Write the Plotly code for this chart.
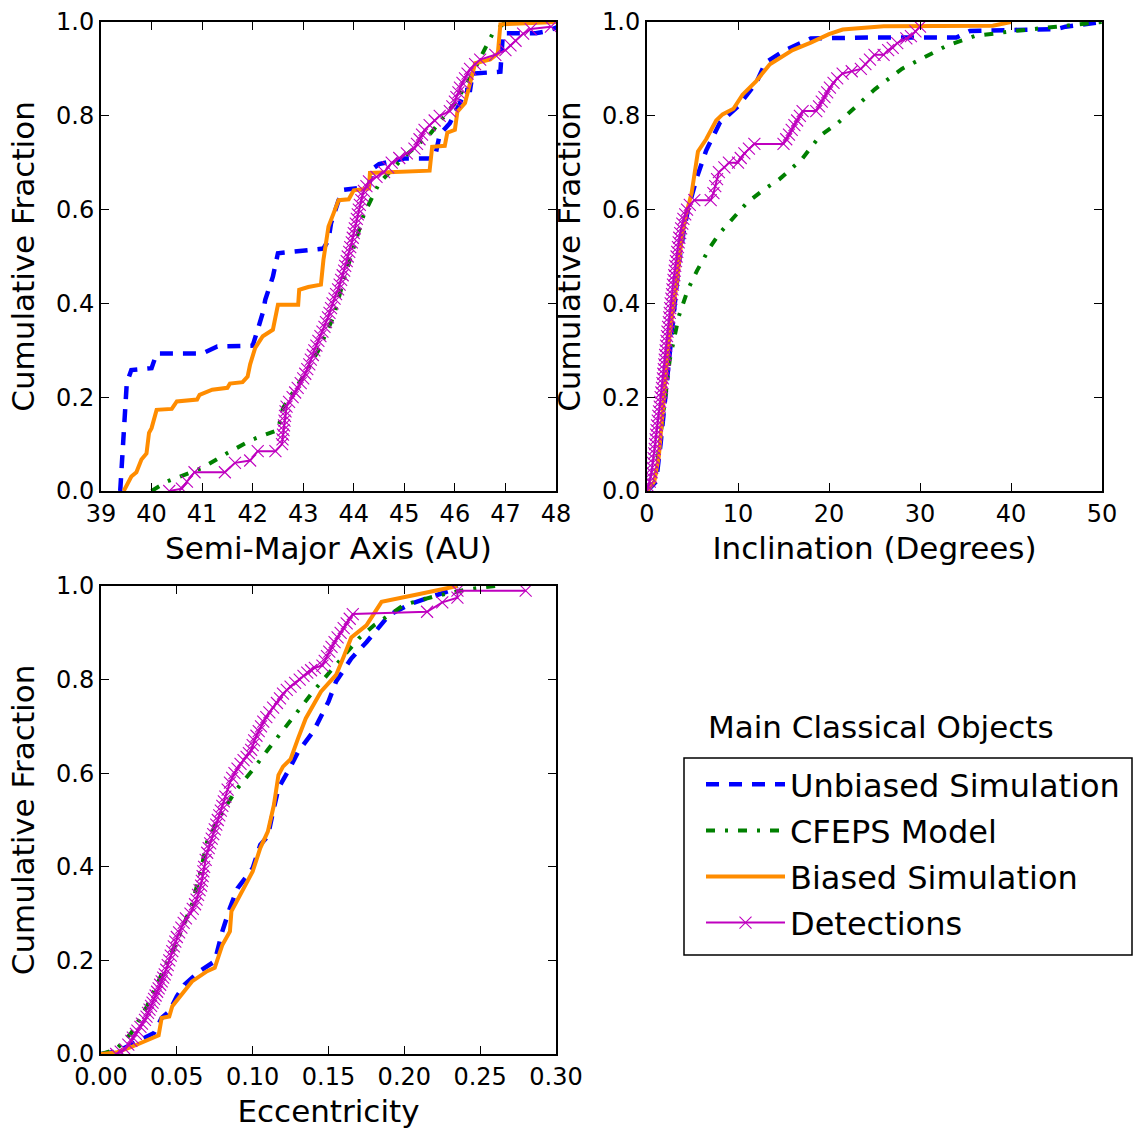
import plotly.graph_objects as go

# ---------------- Semi-major axis (AU) ----------------
A_UNB_X = [39.38, 39.45, 39.51, 39.6, 40.0, 40.1, 41.0, 41.3, 42.0, 42.1, 42.2, 42.25, 42.4, 42.5,
           43.4, 43.5, 43.55, 43.7, 43.8, 44.3, 44.35, 44.5, 45.0, 45.6, 45.7, 45.9, 46.1, 46.2,
           46.3, 46.35, 46.9, 46.95, 47.6, 47.8, 48.3]
A_UNB_Y = [0.0, 0.12, 0.23, 0.258, 0.262, 0.293, 0.293, 0.308, 0.31, 0.344, 0.38, 0.408, 0.457, 0.507,
           0.517, 0.535, 0.571, 0.62, 0.642, 0.649, 0.685, 0.697, 0.709, 0.709, 0.76, 0.784, 0.827, 0.855,
           0.855, 0.89, 0.894, 0.976, 0.976, 0.98, 1.0]

A_CFEPS_X = [40.0, 40.3, 41.0, 41.5, 42.0, 42.5, 42.6, 43.0, 43.3, 43.6, 43.8, 44.0, 44.2, 44.5,
             45.0, 45.5, 46.0, 46.3, 46.6, 46.75, 47.0]
A_CFEPS_Y = [0.0, 0.02, 0.049, 0.081, 0.11, 0.13, 0.177, 0.244, 0.3, 0.372, 0.45, 0.52, 0.59, 0.656,
             0.713, 0.76, 0.827, 0.88, 0.947, 0.976, 1.0]

A_BIAS_X = [39.45, 39.6, 39.7, 39.8, 39.9, 39.95, 40.0, 40.1, 40.4, 40.5, 40.9, 40.95, 41.2, 41.5,
            41.55, 41.8, 41.9, 41.95, 42.05, 42.2, 42.4, 42.5, 42.9, 42.92, 43.1, 43.35, 43.4, 43.5,
            43.6, 43.7, 43.9, 44.0, 44.3, 44.32, 45.5, 45.55, 45.8, 45.85, 46.0, 46.05, 46.2, 46.4,
            46.7, 46.85, 46.9, 48.0]
A_BIAS_Y = [0.0, 0.031, 0.04, 0.067, 0.08, 0.124, 0.134, 0.173, 0.175, 0.191, 0.195, 0.205, 0.216, 0.22,
            0.229, 0.232, 0.244, 0.27, 0.305, 0.33, 0.344, 0.397, 0.397, 0.429, 0.435, 0.44, 0.493, 0.564,
            0.592, 0.62, 0.622, 0.641, 0.645, 0.678, 0.683, 0.734, 0.736, 0.764, 0.77, 0.809, 0.827, 0.912,
            0.92, 0.933, 0.995, 1.0]

# detections: (semi-major axis, cumulative fraction)
A_DET = [(40.35, 0.0), (40.6, 0.005), (40.7, 0.02), (40.85, 0.04), (41.45, 0.04), (41.65, 0.06),
         (41.95, 0.065), (42.1, 0.085), (42.45, 0.085), (42.58, 0.10), (42.59, 0.11), (42.60, 0.12),
         (42.61, 0.13), (42.62, 0.14), (42.63, 0.15), (42.64, 0.16), (42.65, 0.17), (42.67, 0.18),
         (42.72, 0.19), (42.79, 0.20), (42.84, 0.21), (42.89, 0.22), (42.95, 0.23), (43.00, 0.24),
         (43.04, 0.25), (43.08, 0.26), (43.12, 0.27), (43.15, 0.28), (43.19, 0.29), (43.22, 0.30),
         (43.26, 0.31), (43.30, 0.32), (43.34, 0.33), (43.38, 0.34), (43.42, 0.35), (43.45, 0.36),
         (43.49, 0.37), (43.52, 0.38), (43.55, 0.39), (43.58, 0.40), (43.62, 0.41), (43.65, 0.42),
         (43.69, 0.43), (43.72, 0.44), (43.75, 0.45), (43.78, 0.46), (43.81, 0.47), (43.83, 0.48),
         (43.86, 0.49), (43.88, 0.50), (43.91, 0.51), (43.93, 0.52), (43.96, 0.53), (43.98, 0.54),
         (44.00, 0.55), (44.02, 0.56), (44.04, 0.57), (44.06, 0.58), (44.08, 0.59), (44.10, 0.60),
         (44.12, 0.61), (44.15, 0.62), (44.17, 0.63), (44.20, 0.64), (44.25, 0.65), (44.30, 0.66),
         (44.45, 0.67), (44.60, 0.68), (44.68, 0.69), (44.75, 0.70), (44.90, 0.71), (45.05, 0.72),
         (45.20, 0.73), (45.25, 0.74), (45.30, 0.75), (45.35, 0.76), (45.40, 0.77), (45.50, 0.78),
         (45.60, 0.79), (45.70, 0.80), (45.90, 0.81), (45.95, 0.82), (46.00, 0.83), (46.03, 0.84),
         (46.07, 0.85), (46.10, 0.86), (46.15, 0.87), (46.20, 0.88), (46.25, 0.89), (46.30, 0.90),
         (46.40, 0.91), (46.50, 0.92), (46.80, 0.93), (47.00, 0.94), (47.10, 0.95), (47.20, 0.96),
         (47.35, 0.975), (47.50, 0.985), (47.90, 0.99)]

# ---------------- Inclination (degrees) ----------------
I_UNB_X = [0.0, 1.0, 1.5, 2.0, 2.5, 3.0, 3.5, 4.0, 4.5, 5.5, 6.5, 8.0, 10.0, 12.0, 13.0, 15.0, 17.0,
           18.0, 25.0, 34.0, 35.5, 45.0, 46.0, 50.0]
I_UNB_Y = [0.0, 0.02, 0.102, 0.202, 0.3, 0.4, 0.486, 0.55, 0.6, 0.67, 0.726, 0.785, 0.82, 0.87, 0.913,
           0.938, 0.955, 0.965, 0.967, 0.967, 0.981, 0.985, 0.99, 1.0]

I_CFEPS_X = [0.0, 1.0, 2.0, 2.5, 3.5, 4.5, 5.5, 7.0, 8.0, 9.0, 11.0, 13.0, 14.5, 17.0, 19.0, 21.0,
             23.0, 25.0, 28.0, 30.0, 33.0, 36.0, 40.0, 45.0, 50.0]
I_CFEPS_Y = [0.0, 0.04, 0.2, 0.28, 0.373, 0.43, 0.47, 0.522, 0.55, 0.572, 0.615, 0.645, 0.664, 0.707,
             0.757, 0.785, 0.82, 0.856, 0.9, 0.92, 0.95, 0.97, 0.98, 0.99, 1.0]

I_BIAS_X = [0.0, 0.8, 1.3, 1.8, 2.3, 2.8, 3.3, 3.8, 4.3, 4.9, 5.3, 5.6, 6.5, 7.6, 8.3, 9.5, 10.5,
            12.0, 13.5, 16.0, 18.0, 20.0, 21.5, 26.0, 38.0, 40.0]
I_BIAS_Y = [0.0, 0.02, 0.074, 0.2, 0.3, 0.38, 0.45, 0.536, 0.59, 0.635, 0.69, 0.724, 0.75, 0.79, 0.803,
            0.815, 0.845, 0.874, 0.91, 0.94, 0.956, 0.974, 0.984, 0.991, 0.992, 1.0]

# detections: (inclination, cumulative fraction)
I_DET = [(0.0, 0.0), (0.15, 0.01), (0.3, 0.02), (0.4, 0.03), (0.5, 0.04), (0.58, 0.05), (0.65, 0.06),
         (0.72, 0.07), (0.8, 0.08), (0.85, 0.09), (0.9, 0.10), (0.95, 0.11), (1.0, 0.12), (1.05, 0.13),
         (1.1, 0.14), (1.18, 0.15), (1.25, 0.16), (1.32, 0.17), (1.4, 0.18), (1.45, 0.19), (1.5, 0.20),
         (1.58, 0.21), (1.65, 0.22), (1.7, 0.23), (1.75, 0.24), (1.8, 0.25), (1.85, 0.26), (1.9, 0.27),
         (1.95, 0.28), (2.0, 0.29), (2.05, 0.30), (2.1, 0.31), (2.15, 0.32), (2.2, 0.33), (2.25, 0.34),
         (2.32, 0.35), (2.4, 0.36), (2.45, 0.37), (2.5, 0.38), (2.55, 0.39), (2.6, 0.40), (2.68, 0.41),
         (2.75, 0.42), (2.8, 0.43), (2.85, 0.44), (2.92, 0.45), (3.0, 0.46), (3.05, 0.47), (3.1, 0.48),
         (3.18, 0.49), (3.25, 0.50), (3.32, 0.51), (3.4, 0.52), (3.48, 0.53), (3.55, 0.54), (3.65, 0.55),
         (3.75, 0.56), (3.88, 0.57), (4.0, 0.58), (4.2, 0.59), (4.4, 0.60), (4.7, 0.61), (5.2, 0.62),
         (7.0, 0.62), (7.3, 0.635), (7.5, 0.65), (7.7, 0.665), (7.9, 0.68), (8.5, 0.69), (9.0, 0.70),
         (10.0, 0.70), (10.3, 0.71), (10.7, 0.72), (11.2, 0.73), (11.8, 0.74), (15.0, 0.74), (15.3, 0.75),
         (15.6, 0.76), (15.9, 0.77), (16.2, 0.78), (16.5, 0.79), (16.8, 0.80), (17.1, 0.81), (18.6, 0.81),
         (18.9, 0.82), (19.2, 0.83), (19.5, 0.84), (19.8, 0.85), (20.1, 0.86), (20.5, 0.87), (20.9, 0.88),
         (21.5, 0.89), (22.5, 0.895), (23.5, 0.90), (24.0, 0.91), (24.5, 0.92), (25.0, 0.93), (26.0, 0.93),
         (26.5, 0.94), (27.0, 0.945), (27.5, 0.955), (28.5, 0.965), (29.0, 0.97), (29.5, 0.98), (30.0, 0.99)]

# ---------------- Eccentricity ----------------
E_UNB_X = [0.0, 0.01, 0.02, 0.03, 0.035, 0.04, 0.045, 0.05, 0.055, 0.065, 0.075, 0.08, 0.085, 0.09,
           0.1, 0.105, 0.11, 0.113, 0.117, 0.125, 0.13, 0.14, 0.15, 0.155, 0.165, 0.175, 0.18, 0.19,
           0.205, 0.22, 0.23, 0.235]
E_UNB_Y = [0.0, 0.005, 0.02, 0.038, 0.045, 0.077, 0.091, 0.123, 0.148, 0.177, 0.198, 0.262, 0.312, 0.354,
           0.397, 0.447, 0.465, 0.511, 0.568, 0.614, 0.646, 0.689, 0.753, 0.796, 0.845, 0.88, 0.899, 0.938,
           0.963, 0.98, 0.99, 1.0]

E_CFEPS_X = [0.0, 0.01, 0.02, 0.025, 0.03, 0.04, 0.05, 0.06, 0.065, 0.07, 0.08, 0.09, 0.1, 0.11, 0.12,
             0.13, 0.14, 0.15, 0.16, 0.17, 0.18, 0.2, 0.22, 0.24, 0.26]
E_CFEPS_Y = [0.0, 0.01, 0.045, 0.073, 0.1, 0.17, 0.24, 0.32, 0.38, 0.454, 0.518, 0.568, 0.607, 0.65,
             0.692, 0.735, 0.775, 0.813, 0.849, 0.888, 0.916, 0.96, 0.978, 0.992, 1.0]

E_BIAS_X = [0.0, 0.01, 0.02, 0.03, 0.038, 0.04, 0.045, 0.047, 0.055, 0.06, 0.07, 0.075, 0.08, 0.085,
            0.086, 0.09, 0.1, 0.105, 0.11, 0.114, 0.117, 0.12, 0.125, 0.13, 0.135, 0.145, 0.155, 0.16,
            0.165, 0.175, 0.185, 0.21, 0.23, 0.235]
E_BIAS_Y = [0.0, 0.003, 0.015, 0.03, 0.04, 0.077, 0.08, 0.102, 0.134, 0.155, 0.177, 0.184, 0.233, 0.262,
            0.305, 0.33, 0.39, 0.44, 0.475, 0.532, 0.596, 0.614, 0.63, 0.675, 0.717, 0.774, 0.81, 0.849,
            0.89, 0.916, 0.966, 0.983, 0.995, 1.0]

# detections: (eccentricity, cumulative fraction)
E_DET = [(0.010, 0.0), (0.013, 0.005), (0.016, 0.01), (0.018, 0.02), (0.020, 0.028), (0.021, 0.035),
         (0.023, 0.043), (0.024, 0.05), (0.026, 0.058), (0.027, 0.065), (0.029, 0.073), (0.030, 0.08),
         (0.031, 0.088), (0.032, 0.095), (0.033, 0.103), (0.034, 0.11), (0.035, 0.118), (0.036, 0.125),
         (0.037, 0.133), (0.038, 0.14), (0.039, 0.148), (0.040, 0.155), (0.041, 0.163), (0.042, 0.17),
         (0.043, 0.18), (0.044, 0.19), (0.045, 0.20), (0.046, 0.21), (0.047, 0.22), (0.048, 0.23),
         (0.049, 0.24), (0.050, 0.25), (0.0515, 0.26), (0.053, 0.27), (0.0545, 0.28), (0.056, 0.29),
         (0.059, 0.30), (0.0605, 0.31), (0.062, 0.32), (0.063, 0.33), (0.064, 0.34), (0.065, 0.35),
         (0.066, 0.36), (0.0665, 0.37), (0.067, 0.38), (0.0675, 0.39), (0.068, 0.40), (0.069, 0.415),
         (0.070, 0.43), (0.071, 0.44), (0.072, 0.45), (0.073, 0.46), (0.074, 0.47), (0.075, 0.48),
         (0.076, 0.49), (0.077, 0.50), (0.078, 0.51), (0.079, 0.52), (0.080, 0.53), (0.081, 0.54),
         (0.082, 0.55), (0.0835, 0.565), (0.085, 0.58), (0.0865, 0.59), (0.088, 0.60), (0.090, 0.61),
         (0.092, 0.62), (0.094, 0.628), (0.096, 0.635), (0.0975, 0.643), (0.099, 0.65), (0.100, 0.66),
         (0.101, 0.67), (0.1025, 0.68), (0.104, 0.69), (0.1055, 0.70), (0.107, 0.71), (0.109, 0.72),
         (0.111, 0.73), (0.1135, 0.74), (0.116, 0.75), (0.118, 0.76), (0.120, 0.77), (0.1225, 0.778),
         (0.125, 0.785), (0.128, 0.793), (0.131, 0.80), (0.1335, 0.808), (0.136, 0.815), (0.1385, 0.82),
         (0.141, 0.825), (0.146, 0.83), (0.1475, 0.84), (0.149, 0.85), (0.1505, 0.86), (0.152, 0.87),
         (0.154, 0.88), (0.156, 0.89), (0.158, 0.90), (0.160, 0.91), (0.162, 0.92), (0.164, 0.93),
         (0.166, 0.94), (0.215, 0.945), (0.225, 0.965), (0.235, 0.975), (0.235, 0.99), (0.280, 0.99)]

SERIES = ["Unbiased Simulation", "CFEPS Model", "Biased Simulation", "Detections"]

BLUE, GREEN, ORANGE, MAGENTA = "#0000FF", "#008000", "#FF8C00", "#BF00BF"
FONT = "DejaVu Sans"

W, H = 1136, 1131


def fx(px):
    return px / W


def fy(py):
    return 1 - py / H


def unzip(pairs):
    return [p[0] for p in pairs], [p[1] for p in pairs]


fig = go.Figure()

panels = [
    ("x", "y", (A_UNB_X, A_UNB_Y), (A_CFEPS_X, A_CFEPS_Y), (A_BIAS_X, A_BIAS_Y), unzip(A_DET)),
    ("x2", "y2", (I_UNB_X, I_UNB_Y), (I_CFEPS_X, I_CFEPS_Y), (I_BIAS_X, I_BIAS_Y), unzip(I_DET)),
    ("x3", "y3", (E_UNB_X, E_UNB_Y), (E_CFEPS_X, E_CFEPS_Y), (E_BIAS_X, E_BIAS_Y), unzip(E_DET)),
]

for k, (xa, ya, unb, cfeps, bias, det) in enumerate(panels):
    first = k == 0
    fig.add_trace(go.Scatter(x=unb[0], y=unb[1], xaxis=xa, yaxis=ya, mode="lines",
                             name=SERIES[0], legendgroup="unb", showlegend=first,
                             line=dict(color=BLUE, width=4.5, dash="13px,10px")))
    fig.add_trace(go.Scatter(x=cfeps[0], y=cfeps[1], xaxis=xa, yaxis=ya, mode="lines",
                             name=SERIES[1], legendgroup="cfeps", showlegend=first,
                             line=dict(color=GREEN, width=4, dash="9px,10px,3px,10px")))
    fig.add_trace(go.Scatter(x=bias[0], y=bias[1], xaxis=xa, yaxis=ya, mode="lines",
                             name=SERIES[2], legendgroup="bias", showlegend=first,
                             line=dict(color=ORANGE, width=4)))
    fig.add_trace(go.Scatter(x=det[0], y=det[1], xaxis=xa, yaxis=ya, mode="lines+markers",
                             name=SERIES[3], legendgroup="det", showlegend=first,
                             line=dict(color=MAGENTA, width=2),
                             marker=dict(symbol="x-thin", size=12, color=MAGENTA,
                                         line=dict(color=MAGENTA, width=1.1))))


def axis_style(domain, rng, title, dtick, fmt, anchor, standoff):
    return dict(domain=domain, range=rng, anchor=anchor, dtick=dtick, tickformat=fmt,
                automargin=False,
                showline=True, linecolor="black", linewidth=2, mirror="ticks",
                ticks="inside", ticklen=8, tickwidth=1.2, tickcolor="black",
                showgrid=False, zeroline=False,
                tickfont=dict(family=FONT, size=24, color="black"),
                title=dict(text=title, font=dict(family=FONT, size=31, color="black"), standoff=standoff))


X1 = [fx(101), fx(556)]
X2 = [fx(647), fx(1102)]
YT = [fy(491), fy(22)]
YB = [fy(1054), fy(586)]

fig.update_layout(
    width=W, height=H,
    margin=dict(l=0, r=0, t=0, b=0, autoexpand=False),
    paper_bgcolor="white", plot_bgcolor="white",
    font=dict(family=FONT, color="black"),
    xaxis=axis_style(X1, [39, 48], "Semi-Major Axis (AU)", 1, "d", "y", 11),
    yaxis=axis_style(YT, [0, 1], "Cumulative Fraction", 0.2, ".1f", "x", 12),
    xaxis2=axis_style(X2, [0, 50], "Inclination (Degrees)", 10, "d", "y2", 11),
    yaxis2=axis_style(YT, [0, 1], "Cumulative Fraction", 0.2, ".1f", "x2", 12),
    xaxis3=axis_style(X1, [0, 0.3], "Eccentricity", 0.05, ".2f", "y3", 11),
    yaxis3=axis_style(YB, [0, 1], "Cumulative Fraction", 0.2, ".1f", "x3", 12),
    legend=dict(x=fx(701), y=fy(757), xanchor="left", yanchor="top",
                borderwidth=0, bgcolor="rgba(0,0,0,0)",
                font=dict(family=FONT, size=32, color="black"),
                itemwidth=79, tracegroupgap=1.5),
    shapes=[dict(type="rect", xref="paper", yref="paper",
                 x0=fx(684), x1=fx(1132), y0=fy(955), y1=fy(758),
                 line=dict(color="black", width=1.5), fillcolor="rgba(0,0,0,0)", layer="below")],
    annotations=[dict(text="Main Classical Objects", x=fx(706), y=fy(727), xref="paper", yref="paper",
                      xanchor="left", yanchor="middle", showarrow=False,
                      font=dict(family=FONT, size=31, color="black"))],
)

fig.write_html("out.html")
